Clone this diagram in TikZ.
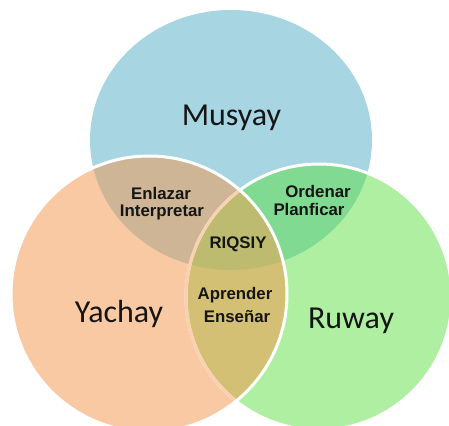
\documentclass[tikz,border=0pt]{standalone}
\usepackage{fontspec}
\newfontfamily\bigfont{Carlito}
\newfontfamily\tagfont{Liberation Sans}
\definecolor{cBlue}{HTML}{A7D5E1}
\definecolor{cOrange}{HTML}{F9C9A3}
\definecolor{cGreen}{HTML}{AFEFA2}
\definecolor{cTan}{HTML}{CDB596}
\definecolor{cMint}{HTML}{80DA92}
\definecolor{cOlive}{HTML}{D3C074}
\definecolor{cCore}{HTML}{BDBB6F}
\definecolor{cInk}{HTML}{151515}
\tikzset{
  bigword/.style={anchor=base, text=cInk, font=\bigfont\fontsize{32}{36}\selectfont, inner sep=0pt},
  tagword/.style={anchor=base, text=cInk, font=\tagfont\bfseries\fontsize{16.8}{18}\selectfont, inner sep=0pt},
  rim/.style={draw=white, line width=3pt}
}
% the three sets
\def\setTop{(231,140) ellipse [x radius=141pt, y radius=130pt]}
\def\setLeft{(149,294) circle [radius=138pt]}
\def\setRight{(319,297) circle [radius=133pt]}
\begin{document}
\begin{tikzpicture}[x=1pt,y=-1pt]
  \clip (0,0) rectangle (449,425);
  \fill[white] (0,0) rectangle (449,425);
  % single-set areas
  \fill[cBlue] \setTop;
  \fill[cGreen] \setRight;
  \fill[cOrange] \setLeft;
  % pairwise overlaps
  \begin{scope}
    \clip \setTop;
    \fill[cTan] \setLeft;
    \fill[cMint] \setRight;
  \end{scope}
  \begin{scope}
    \clip \setLeft;
    \fill[cOlive] \setRight;
    \clip \setTop;
    \fill[cCore] \setRight;
  \end{scope}
  % outlines
  \draw[rim] \setRight;
  \begin{scope}
    \clip \setLeft;
    \draw[draw=cOrange, line width=3pt, draw opacity=0.85] \setRight;
  \end{scope}
  \draw[rim] \setLeft;
  % labels
  \node[bigword] (musyay) at (231.5,125) {Musyay};
  \node[bigword] (yachay) at (119,322) {Yachay};
  \node[bigword] (ruway) at (351,328) {Ruway};
  \node[tagword] (enlazar) at (161,199) {Enlazar};
  \node[tagword] (interpretar) at (162,216) {Interpretar};
  \node[tagword] (ordenar) at (318,197) {Ordenar};
  \node[tagword] (planficar) at (309,215) {Planficar};
  \node[tagword] (riqsiy) at (238,248) {RIQSIY};
  \node[tagword] (aprender) at (235,299) {Aprender};
  \node[tagword] (ensenar) at (237,322) {Enseñar};
\end{tikzpicture}
\end{document}
